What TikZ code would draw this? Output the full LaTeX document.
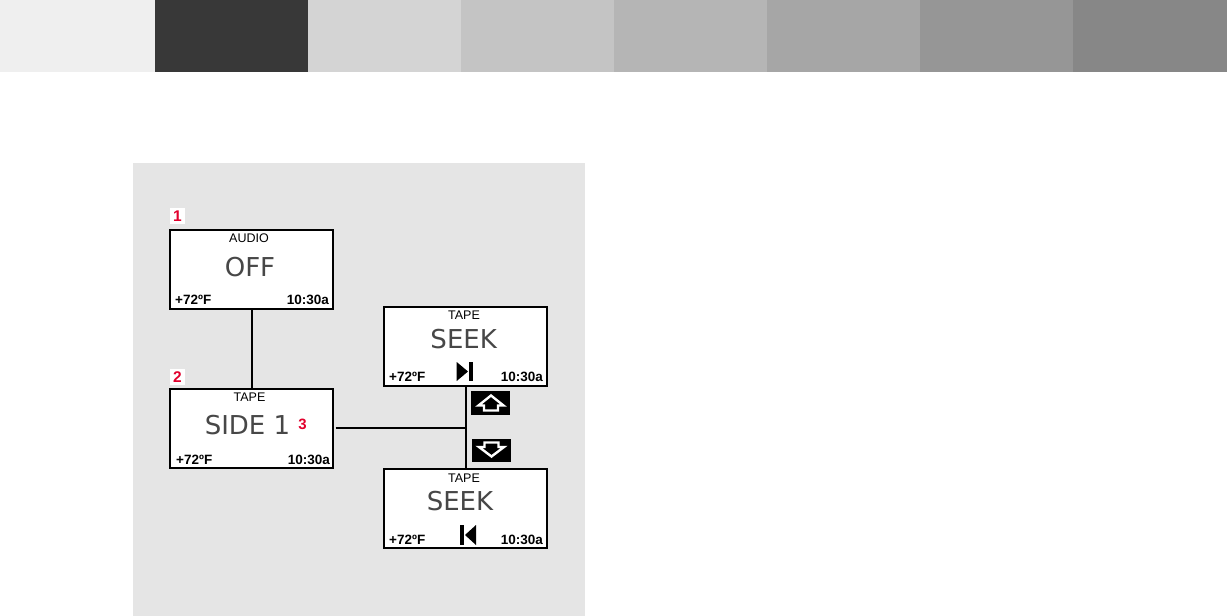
\documentclass[tikz,border=0pt]{standalone}
\usepackage{fontspec}
\setmainfont{Liberation Sans}
\newfontfamily\lcdfont{DejaVu Sans}
\definecolor{panel}{HTML}{E5E5E5}
\definecolor{redmark}{HTML}{E2002D}
\tikzset{
  band/.style={fill=#1,draw=none},
  lcd/.style={draw=black,line width=1.8pt,fill=white,minimum width=163pt,minimum height=79pt,inner sep=0pt,outer sep=0pt,anchor=north west},
  toplabel/.style={font=\fontsize{12.5}{13}\selectfont,anchor=center,inner sep=0pt},
  biglabel/.style={font=\lcdfont\fontsize{26}{26}\selectfont,text=black!72,anchor=center,inner sep=0pt},
  templabel/.style={font=\fontsize{13.5}{14}\bfseries\selectfont,anchor=west,inner sep=0pt},
  timelabel/.style={font=\fontsize{13.5}{14}\bfseries\selectfont,anchor=east,inner sep=0pt},
  marklabel/.style={font=\fontsize{15.5}{16}\bfseries\selectfont,text=redmark,fill=white,inner sep=0pt,minimum width=15pt,minimum height=16pt,anchor=center},
  redlabel/.style={font=\fontsize{15}{15}\bfseries\selectfont,text=redmark,inner sep=0pt,anchor=center},
  conn/.style={draw=black,line width=1.7pt},
  keybox/.style={fill=black,minimum width=39pt,minimum height=23.5pt,inner sep=0pt,anchor=center},
  keyarrow/.style={draw=white,line width=2.4pt,line join=miter,miter limit=6},
}
\begin{document}
\begin{tikzpicture}[x=1pt,y=-1pt]
\useasboundingbox (0,0) rectangle (1227,616);
\fill[white] (0,0) rectangle (1227,616);
\fill[band=white!93.7!black] (0,0) rectangle (155,72);
\fill[band=black!78] (155,0) rectangle (308,72);
\fill[band=black!17] (308,0) rectangle (461,72);
\fill[band=black!23] (461,0) rectangle (614,72);
\fill[band=black!29] (614,0) rectangle (767,72);
\fill[band=black!35] (767,0) rectangle (920,72);
\fill[band=black!41] (920,0) rectangle (1073,72);
\fill[band=black!47] (1073,0) rectangle (1227,72);
\fill[panel] (133,163) rectangle (585,616);

\node[lcd] (a) at (170,230) {};
\node[lcd] (b) at (170,389) {};
\node[lcd] (c) at (384,307) {};
\node[lcd] (d) at (384,469) {};

\coordinate (j) at (466,428);
\coordinate (bout) at (335.5,428);
\draw[conn] (a.south -| 252,0) -- (b.north -| 252,0);
\draw[conn] (bout) -- (j);
\draw[conn] (c.south -| j) -- (d.north -| j);

\node[marklabel] (m1) at (177.5,216) {1};
\node[marklabel] (m2) at (177.5,377) {2};
\node[redlabel] (m3) at (302.5,424.5) {3};

\node[toplabel] (at) at (249,238) {AUDIO};
\node[biglabel] (ab) at (250,267) {OFF};
\node[templabel] (al) at (175,300) {+72ºF};
\node[timelabel] (ar) at (329,300) {10:30a};

\node[toplabel] (bt) at (249.5,397.5) {TAPE};
\node[biglabel] (bb) at (247.5,425.5) {SIDE 1};
\node[templabel] (bl) at (176,459.5) {+72ºF};
\node[timelabel] (br) at (330,459.5) {10:30a};

\node[toplabel] (ct) at (464,315) {TAPE};
\node[biglabel] (cb) at (463.7,339) {SEEK};
\node[templabel] (cl) at (389,377) {+72ºF};
\node[timelabel] (cr) at (543,377) {10:30a};
\fill[black] (456.7,362) -- (468,371.5) -- (456.7,381) -- cycle;
\fill[black] (469.3,362) rectangle (472.7,381);

\node[toplabel] (dt) at (464,478) {TAPE};
\node[biglabel] (db) at (460,501.5) {SEEK};
\node[templabel] (dl) at (389,539.5) {+72ºF};
\node[timelabel] (dr) at (543,539.5) {10:30a};
\fill[black] (460,525) rectangle (464,545);
\fill[black] (476,525) -- (465,535) -- (476,545) -- cycle;

\node[keybox] (up) at (490.5,403) {};
\node[keybox] (dn) at (491.5,450.5) {};
\draw[keyarrow] (491,395.5) -- (503.5,405.5) -- (498,405.5) -- (498,410.5) -- (484,410.5) -- (484,405.5) -- (478.5,405.5) -- cycle;
\draw[keyarrow] (491.5,456.5) -- (504,447) -- (498.5,447) -- (498.5,442.5) -- (484.5,442.5) -- (484.5,447) -- (479,447) -- cycle;
\end{tikzpicture}
\end{document}
